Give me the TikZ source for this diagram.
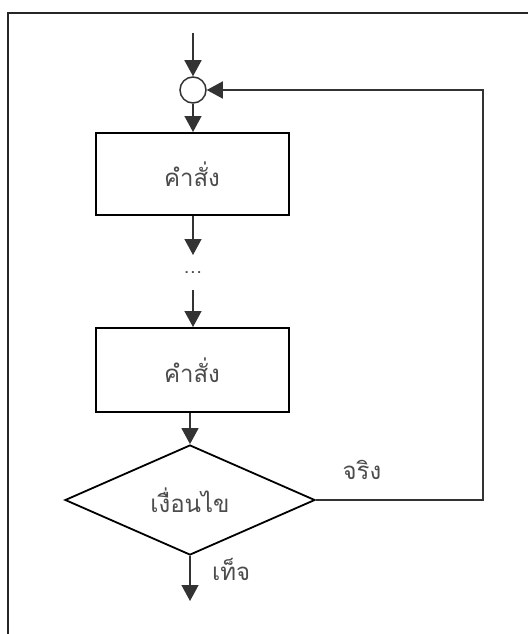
\documentclass[tikz,border=0pt]{standalone}
\usepackage{fontspec}
\newfontfamily\thaifont[Script=Thai]{Loma}
\usetikzlibrary{arrows.meta,shapes.geometric}
\tikzset{
  every node/.style={font=\thaifont\fontsize{24}{28}\selectfont, text=black!70},
  stepbox/.style={draw=black, line width=2pt, minimum width=193pt, minimum height=82pt, inner sep=0pt},
  decision/.style={draw=black, line width=1.8pt, diamond, aspect=2.27, minimum width=250pt, minimum height=110pt, inner sep=0pt},
  joint/.style={draw=black!80, line width=1.5pt, circle, minimum size=26pt, inner sep=0pt},
  flow/.style={draw=black!80, line width=1.5pt, -{Triangle[width=17pt,length=16pt]}},
  frame/.style={draw=black!85, line width=2pt}
}
\begin{document}
\begin{tikzpicture}[x=1pt,y=-1pt]
  \useasboundingbox (0,0) rectangle (528,634);
  % page frame: top and left edges only
  \draw[frame] (528,13) -- (8,13) -- (8,634);

  \coordinate (entry) at (193,33);
  \node[joint] (join) at (193,90) {};
  \node[stepbox] (cmd1) at (192,174) {คำสั่ง};
  \coordinate (gapTop) at (193,255);
  \node[font=\sffamily\fontsize{24}{28}\selectfont, inner sep=0pt] (dots) at (193,273) {...};
  \coordinate (gapBot) at (193,290);
  \node[stepbox, minimum height=84pt] (cmd2) at (192,370) {คำสั่ง};
  \node[decision] (cond) at (190,500) {เงื่อนไข};
  \coordinate (exit) at (190,601);
  \coordinate (loopLow) at (483,500);
  \coordinate (loopHigh) at (483,90);

  \draw[flow] (entry) -- (join.north);
  \draw[flow] (join.south) -- (cmd1.north -| join.south);
  \draw[flow] (cmd1.south -| join.south) -- (gapTop);
  \draw[flow] (gapBot) -- (cmd2.north -| gapBot);
  \draw[flow] (cmd2.south -| cond.north) -- (cond.north);
  \draw[flow] (cond.south) -- (exit);
  \draw[flow] (cond.east) -- (loopLow) -- (loopHigh) -- (join.east);

  \node[anchor=west, inner sep=0pt] (falseLbl) at (212,569) {เท็จ};
  \node (trueLbl) at (362,470) {จริง};
\end{tikzpicture}
\end{document}
